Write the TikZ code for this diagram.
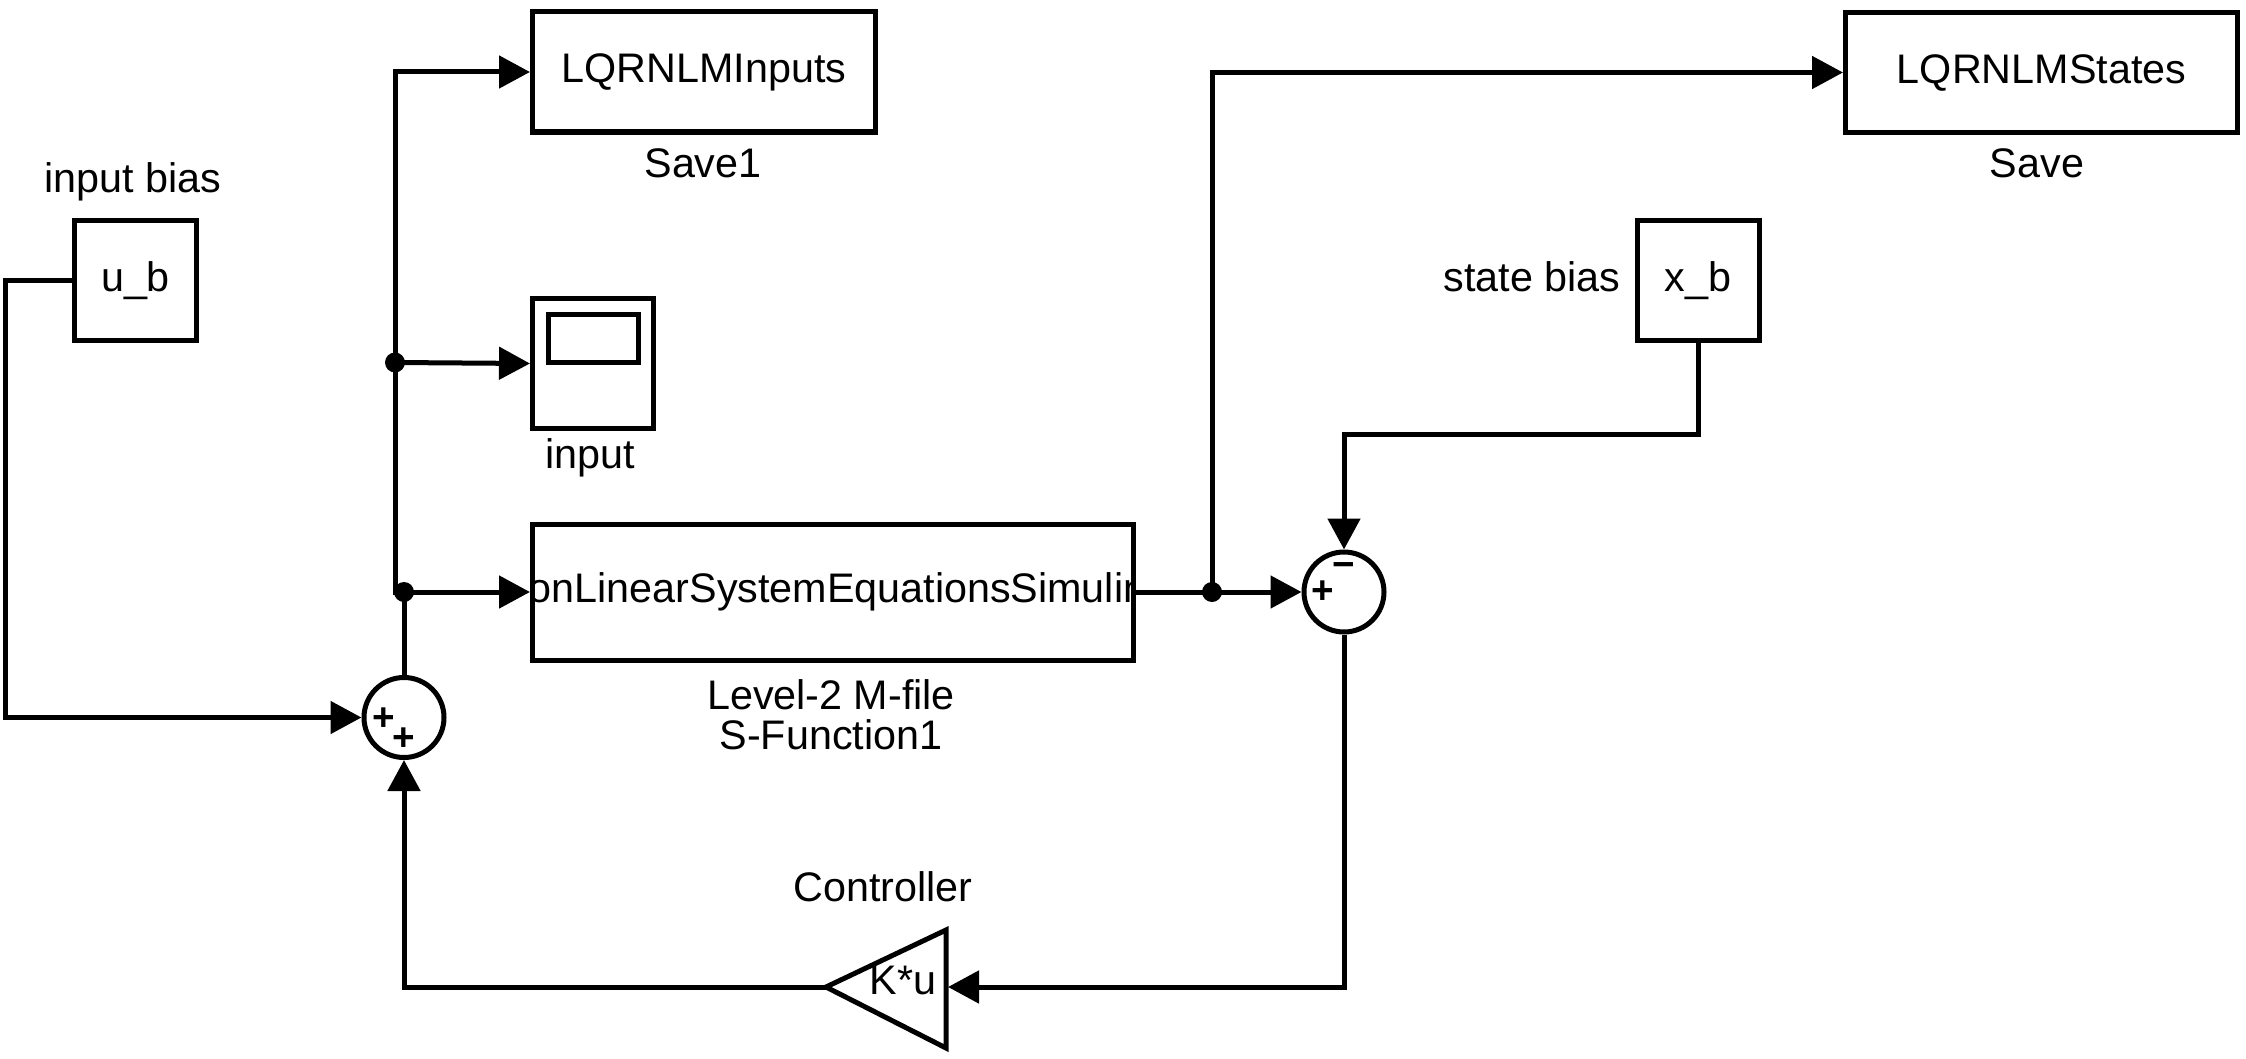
\documentclass[tikz,border=0pt]{standalone}
\usepackage{fontspec}
\setmainfont{Liberation Sans}
\usetikzlibrary{arrows.meta,calc}

\begin{document}
\begin{tikzpicture}[
    font=\fontsize{23.5}{27}\selectfont,
    line width=0.1cm,
    blk/.style={draw,minimum width=2.44cm,minimum height=2.4cm,inner sep=0pt},
    sumblk/.style={draw,circle,minimum size=1.6cm,inner sep=0pt},
    sgn/.style={font=\fontsize{22}{22}\selectfont\bfseries,inner sep=0pt},
    arr/.style={-{Triangle[length=0.62cm,width=0.64cm]}},
  ]
  \useasboundingbox (0,0) rectangle (44.92,-21.16);

  \node[blk] (ub) at (2.71,-5.61) {u\_b};
  \node at (2.66,-3.64) {input bias};
  \node[blk] (xb) at (33.96,-5.61) {x\_b};
  \node at (30.64,-5.54) {state bias};

  \node[blk,minimum width=6.86cm] (save1) at (14.08,-1.44) {LQRNLMInputs};
  \node at (14.06,-3.26) {Save1};
  \node[blk,minimum width=7.84cm] (save) at (40.83,-1.45) {LQRNLMStates};
  \node at (40.74,-3.26) {Save};

  \node[blk,minimum width=2.42cm,minimum height=2.6cm] (scope) at (11.86,-7.27) {};
  \draw ([shift={(0.36,-0.36)}]scope.north west) rectangle ([shift={(2.16,-1.32)}]scope.north west);
  \node at (11.8,-9.16) {input};

  \node[blk,minimum width=12.02cm,minimum height=2.72cm] (sfun) at (16.66,-11.84) {};
  \begin{scope}
    \clip ([shift={(0.05,-0.05)}]sfun.north west) rectangle ([shift={(-0.05,0.05)}]sfun.south east);
    \node at (sfun.center) {NonLinearSystemEquationsSimulink};
  \end{scope}
  \node[align=center,font=\fontsize{23.5}{23}\selectfont] at (16.62,-14.3) {Level-2 M-file\\S-Function1};

  \node[sumblk] (sum1) at (8.08,-14.35) {};
  \node[sgn] at ($(sum1)+(-0.41,-0.03)$) {+};
  \node[sgn] at ($(sum1)+(0,-0.43)$) {+};
  \node[sumblk] (sum2) at (26.88,-11.84) {};
  \node[sgn] at ($(sum2)+(-0.42,0)$) {+};
  \node[sgn] at ($(sum2)+(0,0.43)$) {−};

  \coordinate (gtip) at (16.52,-19.74);
  \coordinate (gin) at (18.96,-19.74);
  \draw (gtip) -- (18.92,-18.6) -- (18.92,-20.96) -- cycle;
  \node (gain) at (18.06,-19.6) {K*u};
  \node at (17.66,-17.74) {Controller};

  \coordinate (j1) at (8.08,-11.84);
  \coordinate (j2) at (7.9,-7.25);
  \coordinate (jl) at (7.9,-11.84);
  \coordinate (j3) at (24.24,-11.84);

  \draw[arr] (ub.west) -- ++(-1.34,0) |- (sum1.west);
  \draw (sum1.north) -- (j1);
  \draw[arr] (j1) -- (sfun.west);
  \draw[arr] (j1) -- (jl) |- (save1.west);
  \draw[arr] (j2) -- (scope.west);
  \draw (sfun.east) -- (j3);
  \draw[arr] (j3) -- (sum2.west);
  \draw[arr] (j3) |- (save.west);
  \draw[arr] (xb.south) -- ++(0,-1.82) -| (sum2.north);
  \draw[arr] (sum2.south) |- (gin);
  \draw[arr] (gtip) -| (sum1.south);

  \fill (j1) circle (0.2);
  \fill (j2) circle (0.2);
  \fill (j3) circle (0.2);
\end{tikzpicture}
\end{document}
